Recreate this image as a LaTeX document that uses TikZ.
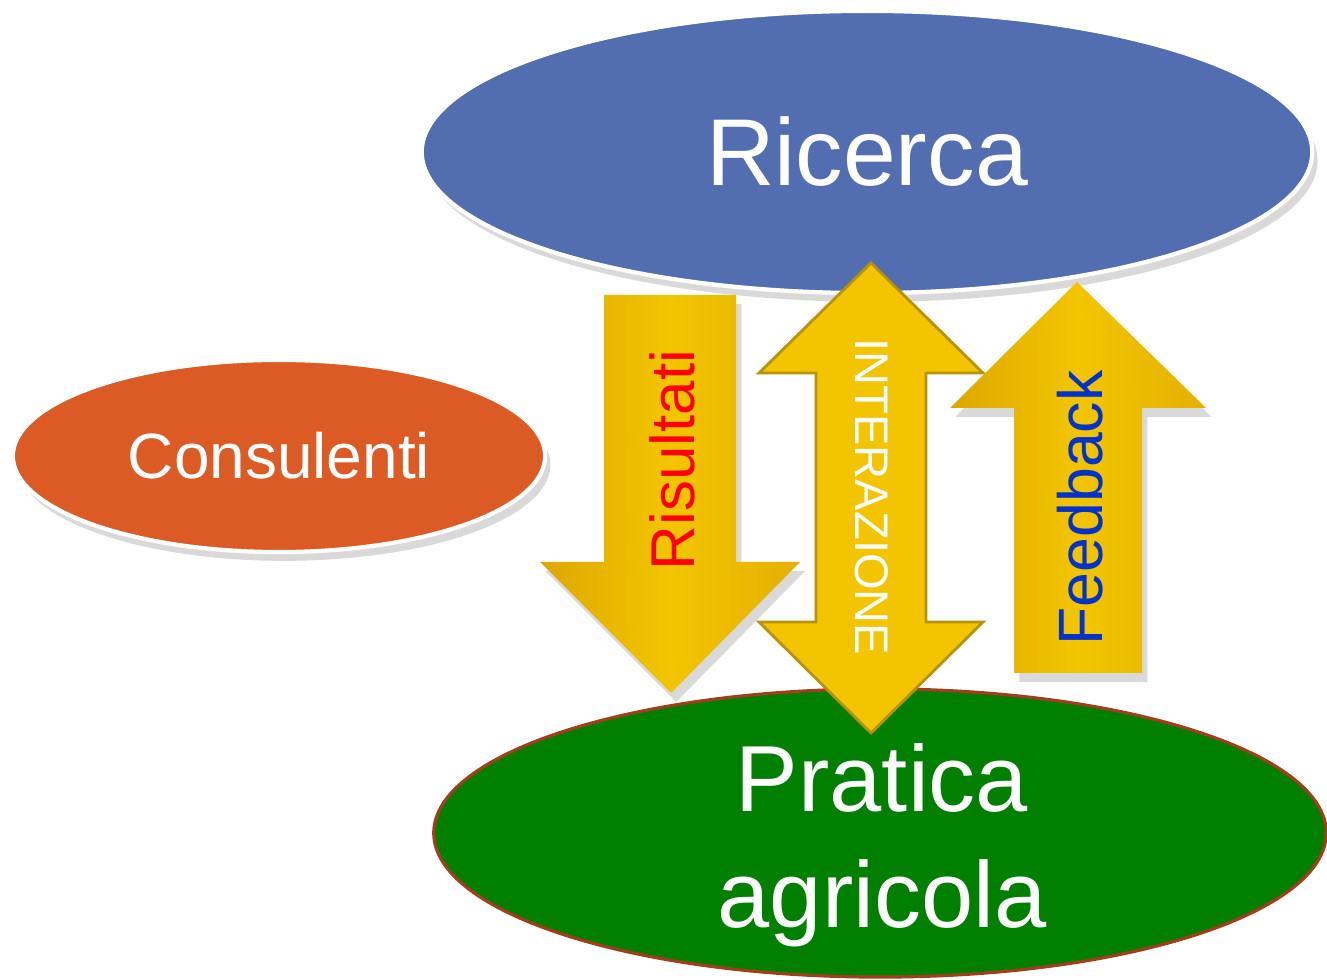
\documentclass[tikz,border=0pt]{standalone}
\usepackage{fontspec}
\setmainfont{Liberation Sans}
\usepackage{xcolor}
\usepackage{tikz}
\usetikzlibrary{shapes.geometric,shadows}

\definecolor{ricercablue}{HTML}{526EB0}
\definecolor{consorange}{HTML}{DC5A23}
\definecolor{praticagreen}{HTML}{007F00}
\definecolor{praticaline}{HTML}{A23E1C}
\definecolor{arrowgold}{HTML}{F3C500}
\definecolor{arrowdark}{HTML}{DDA800}
\definecolor{arrowline}{HTML}{B8920A}
\definecolor{feedblue}{HTML}{0033CC}

\tikzset{
    blob/.style={ellipse, inner sep=0pt, text=white},
    softshadow/.style={drop shadow={opacity=0.3, shadow xshift=1.5pt, shadow yshift=-2.5pt}},
    bigarrow/.style={left color=arrowdark, right color=arrowdark!70!arrowgold, middle color=arrowgold, softshadow},
}

\begin{document}
\begin{tikzpicture}[x=0.01cm, y=-0.01cm]
    \useasboundingbox (0,0) rectangle (1327,980);

    % Ellipses
    \node[blob, fill=ricercablue, draw=white, line width=1.2pt, softshadow,
          minimum width=8.9cm, minimum height=2.82cm, font=\fontsize{27}{32}\selectfont]
        (ricerca) at (867,152) {Ricerca};
    \node[blob, fill=consorange, draw=white, line width=1.2pt, softshadow,
          minimum width=5.32cm, minimum height=1.92cm, font=\fontsize{18.2}{22}\selectfont]
        (consulenti) at (279,456) {Consulenti};
    \node[blob, fill=praticagreen, draw=praticaline, line width=0.9pt,
          minimum width=8.92cm, minimum height=2.88cm] (pratica) at (880,833) {};
    \node[text=white, align=center, font=\fontsize{26.7}{33}\selectfont]
        (praticatxt) at (882,845) {Pratica\\agricola};

    % Down arrow
    \shade[bigarrow] (604,295) -- (736,295) -- (736,562) -- (800,562) -- (671,693)
        -- (540,562) -- (604,562) -- cycle;
    \node[rotate=90, text=red, font=\fontsize{17.6}{20}\selectfont]
        (risultati) at (672,460) {Risultati};

    % Double arrow
    \filldraw[fill=arrowgold, draw=arrowline, line width=0.8pt]
        (871,263) -- (983,373) -- (926,373) -- (926,622) -- (983,622) -- (871,733)
        -- (759,622) -- (816,622) -- (816,373) -- (759,373) -- cycle;
    \node[rotate=-90, text=white, font=\fontsize{13.4}{16}\selectfont]
        (interazione) at (872,497) {INTERAZIONE};

    % Up arrow
    \shade[bigarrow] (1077,282) -- (1206,408) -- (1142,408) -- (1142,673) -- (1014,673)
        -- (1014,408) -- (950,408) -- cycle;
    \node[rotate=90, text=feedblue, font=\fontsize{17.8}{20}\selectfont]
        (feedback) at (1080,508) {Feedback};

\end{tikzpicture}
\end{document}
